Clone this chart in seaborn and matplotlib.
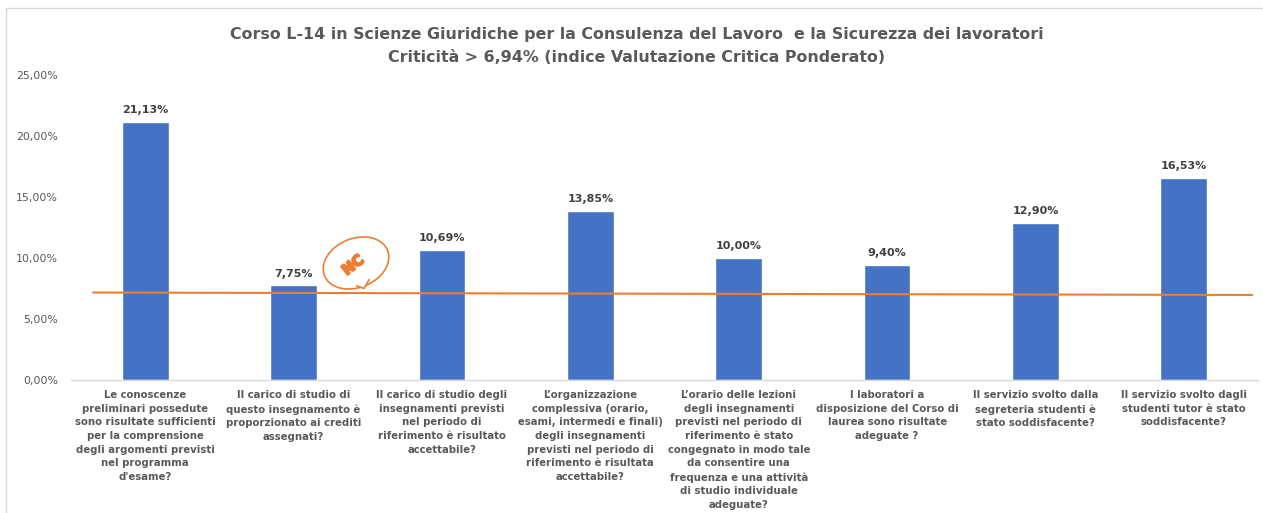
import matplotlib
matplotlib.use("Agg")
import matplotlib.patheffects as pe
import matplotlib.pyplot as plt
import pandas as pd
import seaborn as sns
from matplotlib.patches import Ellipse, Polygon

QUESTIONS = [
    "Le conoscenze\npreliminari possedute\nsono risultate sufficienti\nper la comprensione\ndegli argomenti previsti\nnel programma\nd'esame?",
    "Il carico di studio di\nquesto insegnamento è\nproporzionato ai crediti\nassegnati?",
    "Il carico di studio degli\ninsegnamenti previsti\nnel periodo di\nriferimento è risultato\naccettabile?",
    "L’organizzazione\ncomplessiva (orario,\nesami, intermedi e finali)\ndegli insegnamenti\nprevisti nel periodo di\nriferimento è risultata\naccettabile?",
    "L’orario delle lezioni\ndegli insegnamenti\nprevisti nel periodo di\nriferimento è stato\ncongegnato in modo tale\nda consentire una\nfrequenza e una attività\ndi studio individuale\nadeguate?",
    "I laboratori a\ndisposizione del Corso di\nlaurea sono risultate\nadeguate ?",
    "Il servizio svolto dalla\nsegreteria studenti è\nstato soddisfacente?",
    "Il servizio svolto dagli\nstudenti tutor è stato\nsoddisfacente?",
]
VALUES = [21.13, 7.75, 10.69, 13.85, 10.00, 9.40, 12.90, 16.53]
THRESHOLD_X = [-0.35, 7.46]
THRESHOLD_Y = [7.17, 6.97]
YTICKS = [0, 5, 10, 15, 20, 25]

W, H = 1263, 513
GREY = "#595959"
ORANGE = "#ED7D31"


def fmt(v):
    return f"{v:.2f}".replace(".", ",") + "%"


sns.set_theme(style="white")
plt.rcParams["font.family"] = ["DejaVu Sans"]

df = pd.DataFrame({"question": QUESTIONS, "value": VALUES})

fig = plt.figure(figsize=(W / 100, H / 100), dpi=100)
ax = fig.add_axes([71 / W, 1 - 380 / H, (1258 - 71) / W, (380 - 75) / H])

sns.barplot(data=df, x="question", y="value", color="#4472C4", saturation=1,
            width=0.315, ax=ax)
ax.plot(THRESHOLD_X, THRESHOLD_Y, color=ORANGE, lw=1.5, zorder=5)

ax.bar_label(ax.containers[0], labels=[fmt(v) for v in VALUES], padding=5,
             fontsize=8, fontweight="bold", color="#404040")

ax.set_xlim(-0.5, 7.5)
ax.set_ylim(0, 25)
ax.set_yticks(YTICKS)
ax.set_yticklabels([fmt(v) for v in YTICKS], fontsize=7.9, color=GREY)
ax.set_xticks(range(len(QUESTIONS)))
ax.set_xticklabels(QUESTIONS, fontsize=7.3, color=GREY, fontweight="bold",
                   linespacing=1.45, ha="center", va="top")
ax.tick_params(axis="x", length=0, pad=7.4)
ax.tick_params(axis="y", length=0, pad=9.5)
ax.set_xlabel("")
ax.set_ylabel("")
sns.despine(ax=ax, left=True, top=True, right=True)
ax.spines["bottom"].set_color("#D9D9D9")
ax.spines["bottom"].set_linewidth(1)

# title
fig.text(637 / W, 1 - 35 / H, "Corso L-14 in Scienze Giuridiche per la Consulenza del Lavoro  e la Sicurezza dei lavoratori",
         ha="center", va="center", fontsize=11.4, fontweight="bold", color=GREY)
fig.text(637 / W, 1 - 58 / H, "Criticità > 6,94% (indice Valutazione Critica Ponderato)",
         ha="center", va="center", fontsize=11.4, fontweight="bold", color=GREY)


# speech bubble and outer frame, in pixel coords of the figure
def px(x, y):
    return (x / W, 1 - y / H)


bubble = Ellipse((356, H - 263), 68, 49, angle=22, transform=None,
                 fc="white", ec=ORANGE, lw=1.2, zorder=6)
tail = Polygon([px(356, 285.5), px(364, 288.5), px(369.5, 279)], closed=False,
               transform=fig.transFigure, fc="white", ec=ORANGE, lw=1.2, zorder=7)
fig.add_artist(bubble)
fig.add_artist(tail)
fig.text(353 / W, 1 - 265 / H, "NC", ha="center", va="center", rotation=38,
         fontsize=10.5, fontweight="bold", color=ORANGE, zorder=8,
         path_effects=[pe.withStroke(linewidth=1.5, foreground=ORANGE)])

fig.add_artist(plt.Line2D([5.5 / W, 5.5 / W], [0, 1 - 7.5 / H], color="#D9D9D9", lw=1))
fig.add_artist(plt.Line2D([5.5 / W, 1], [1 - 7.5 / H, 1 - 7.5 / H], color="#D9D9D9", lw=1))

fig.savefig("out.png", dpi=100)
